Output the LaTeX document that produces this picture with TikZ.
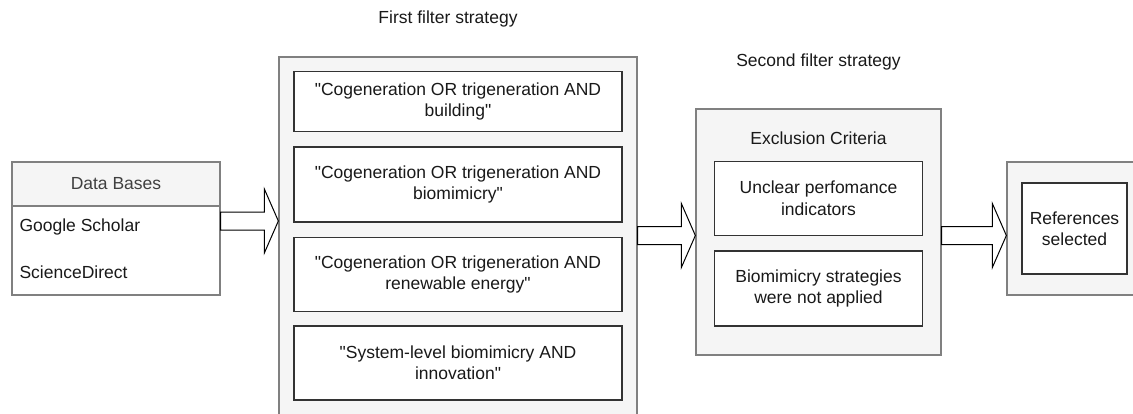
\documentclass[tikz,border=0pt]{standalone}
\usepackage{fontspec}
\setmainfont{Liberation Sans}
\usetikzlibrary{positioning,calc}

% hollow block arrow from the east side of #1 to the west side of #2, #3 = shift
\newcommand{\fatarrow}[3]{%
    \draw[hollow] let \p1 = ([yshift=#3]#1.east), \p2 = (#2.west) in
        (\x1,\y1-9pt) -- (\x2-14pt,\y1-9pt) -- (\x2-14pt,\y1-32pt) -- (\x2,\y1)
        -- (\x2-14pt,\y1+32pt) -- (\x2-14pt,\y1+9pt) -- (\x1,\y1+9pt) -- cycle;
}
\newcommand{\dq}{\textquotedbl}

\begin{document}
\begin{tikzpicture}[x=1pt, y=-1pt,
        every node/.style={font=\fontsize{17.5}{21.5}\selectfont, text=black!90},
        group/.style={rectangle, draw=black!50, line width=1.3pt, fill=black!4},
        term/.style={rectangle, draw=black!80, line width=1.5pt, fill=white, align=center, inner sep=0pt},
        plain/.style={inner sep=0pt},
        hollow/.style={draw=black, line width=1pt, fill=white, line join=miter}]
    \path[use as bounding box, clip] (0,0) rectangle (1133,413);

    % Data Bases
    \node[group, fill=white, minimum width=208pt, minimum height=133pt] (db) at (116,228.5) {};
    \node[group, minimum width=208pt, minimum height=44pt, anchor=north, text=black!75] (dbhead) at (db.north) {Data Bases};
    \node[plain, anchor=west] (gs) at ($(db.west)+(8,-1.5)$) {Google Scholar};
    \node[plain, anchor=west] (sd) at ($(gs.west)+(0,45)$) {ScienceDirect};

    % First filter strategy
    \node[group, minimum width=358pt, minimum height=380pt] (filt1) at (458,247) {};
    \node (t1) at ($(filt1.north)+(-10,-37)$) {First filter strategy};
    \node[term, minimum width=328pt, minimum height=60pt] (q1) at ($(filt1.north)+(0,45)$) {\dq Cogeneration OR trigeneration AND\\building\dq};
    \node[term, minimum width=328pt, minimum height=75pt, below=14pt of q1] (q2) {\dq Cogeneration OR trigeneration AND\\biomimicry\dq};
    \node[term, minimum width=328pt, minimum height=74pt, below=14pt of q2] (q3) {\dq Cogeneration OR trigeneration AND\\renewable energy\dq};
    \node[term, minimum width=328pt, minimum height=74pt, below=13pt of q3] (q4) {\dq System-level biomimicry AND\\innovation\dq};

    % Second filter strategy
    \node[group, minimum width=245pt, minimum height=246pt] (filt2) at (818.5,232) {};
    \node (t2) at ($(filt2.north)+(0,-46)$) {Second filter strategy};
    \node (excl) at ($(filt2.north)+(0,30)$) {Exclusion Criteria};
    \node[term, minimum width=208pt, minimum height=74pt] (c1) at ($(filt2.north)+(0,90)$) {Unclear perfomance\\indicators};
    \node[term, minimum width=208pt, minimum height=75pt, below=14pt of c1] (c2) {Biomimicry strategies\\were not applied};

    % Result
    \node[group, minimum width=135pt, minimum height=133pt] (sel) at (1074.5,228.5) {};
    \node[term, minimum width=105pt, minimum height=91pt] (ref) at (sel.center) {References\\selected};

    % Arrows
    \fatarrow{db}{filt1}{7.5pt}
    \fatarrow{filt1}{filt2}{11.5pt}
    \fatarrow{filt2}{sel}{-3.5pt}
\end{tikzpicture}
\end{document}
